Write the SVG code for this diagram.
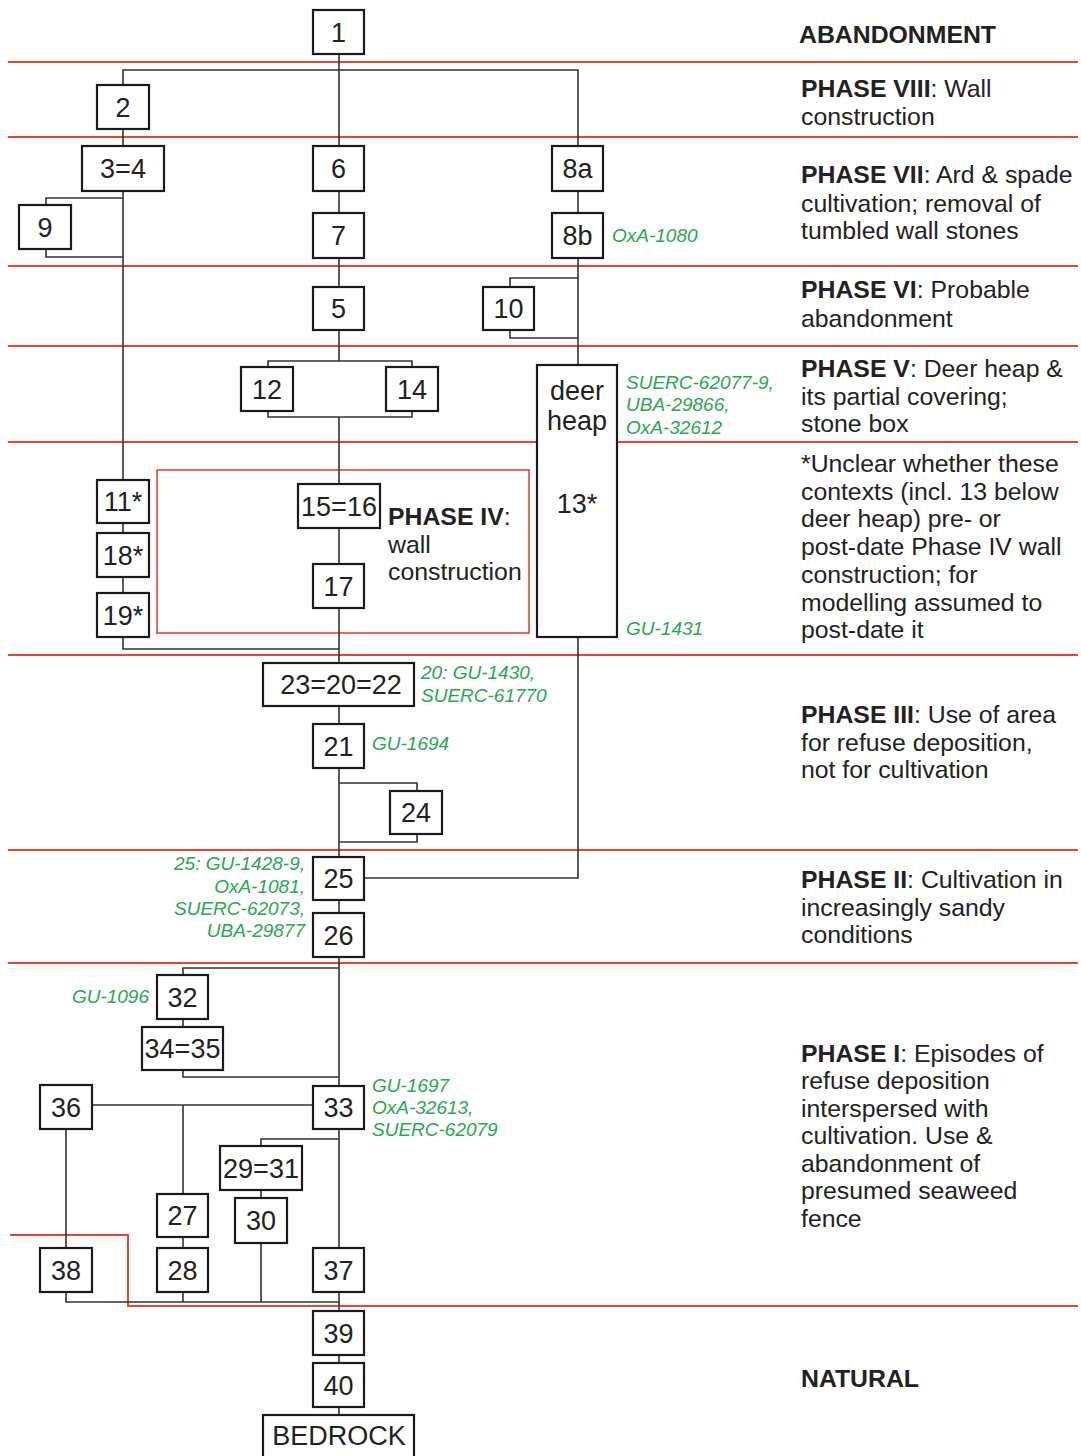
<svg xmlns="http://www.w3.org/2000/svg" width="1081" height="1456" viewBox="0 0 1081 1456">
<style>
.bg{fill:#ffffff}
.red{fill:none;stroke:#e8452f;stroke-width:2}
.redbox{fill:none;stroke:#e8452f;stroke-width:1.6}
.box{fill:#ffffff;stroke:#1a1a1a;stroke-width:2.2}
.con{fill:none;stroke:#333333;stroke-width:1.6}
.lbl{font-family:"Liberation Sans",Arial,sans-serif;font-size:27px;fill:#222222;text-anchor:middle}
.ph{font-family:"Liberation Sans",Arial,sans-serif;font-size:24.8px;fill:#222222}
.b{font-weight:bold}
.g{font-family:"Liberation Sans",Arial,sans-serif;font-size:19px;font-style:italic;fill:#28a850}
.gr{font-family:"Liberation Sans",Arial,sans-serif;font-size:19px;font-style:italic;fill:#28a850;text-anchor:end}
</style>
<rect class="bg" x="0" y="0" width="1081" height="1456"/>
<g id="phase-lines">
<path class="red" d="M8,62 H1078 M8,137 H1078 M8,266 H1078 M8,346 H1078 M8,442 H1078 M8,655 H1078 M8,850 H1078 M8,963 H1078"/>
<path class="red" d="M10,1235 H128 V1306 H1078"/>
<rect class="redbox" x="157" y="470" width="372" height="163"/>
</g>
<g id="connectors">
<path class="con" d="M339,54 V146 M123,85 V70 H578 V146 M123,129 V146 M123,191 V480 M123,198 H46 V205 M46,249 V257 H123"/>
<path class="con" d="M339,191 V213 M339,258 V287 M339,330 V361 M268,367 V361 H412 V367 M268,411 V417 H412 V411 M339,417 V484 M339,528 V564 M339,608 V663"/>
<path class="con" d="M123,523 V533 M123,577 V593 M123,637 V649 H339"/>
<path class="con" d="M578,191 V213 M578,258 V365 M578,278 H510 V287 M510,330 V338 H578 M578,637 V878 H364"/>
<path class="con" d="M339,706 V724 M339,768 V857 M339,783 H417 V791 M417,834 V842 H339 M339,900 V913 M339,957 V1086"/>
<path class="con" d="M339,968 H183 V975 M183,1019 V1027 M183,1070 V1077 H339 M92,1105 H313 M183,1105 V1194 M183,1237 V1248"/>
<path class="con" d="M339,1129 V1248 M339,1139 H261 V1146 M261,1190 V1198 M261,1243 V1302 M66,1129 V1248 M66,1292 V1302 H339 M183,1292 V1302 M339,1292 V1311 M339,1355 V1363 M339,1407 V1415"/>
</g>
<g id="n1"><rect class="box" x="313" y="10" width="51" height="44"/><text class="lbl" x="338.5" y="41.5">1</text></g>
<g id="n2"><rect class="box" x="97" y="85" width="52" height="44"/><text class="lbl" x="123" y="116.5">2</text></g>
<g id="n3-4"><rect class="box" x="82" y="146" width="82" height="45"/><text class="lbl" x="123" y="178">3=4</text></g>
<g id="n6"><rect class="box" x="313" y="146" width="51" height="45"/><text class="lbl" x="338.5" y="178">6</text></g>
<g id="n8a"><rect class="box" x="552" y="146" width="51" height="45"/><text class="lbl" x="577.5" y="178">8a</text></g>
<g id="n9"><rect class="box" x="19" y="205" width="52" height="44"/><text class="lbl" x="45" y="236.5">9</text></g>
<g id="n7"><rect class="box" x="313" y="213" width="51" height="45"/><text class="lbl" x="338.5" y="245">7</text></g>
<g id="n8b"><rect class="box" x="552" y="213" width="51" height="45"/><text class="lbl" x="577.5" y="245">8b</text></g>
<g id="n5"><rect class="box" x="313" y="287" width="51" height="43"/><text class="lbl" x="338.5" y="318">5</text></g>
<g id="n10"><rect class="box" x="483" y="287" width="51" height="43"/><text class="lbl" x="508.5" y="318">10</text></g>
<g id="n12"><rect class="box" x="241" y="367" width="52" height="44"/><text class="lbl" x="267" y="398.5">12</text></g>
<g id="n14"><rect class="box" x="386" y="367" width="52" height="44"/><text class="lbl" x="412" y="398.5">14</text></g>
<g id="deer-heap"><rect class="box" x="537" y="365" width="80" height="272"/><text class="lbl" x="577" y="400">deer</text><text class="lbl" x="577" y="430">heap</text><text class="lbl" x="577" y="513">13*</text></g>
<g id="n11"><rect class="box" x="97" y="480" width="52" height="43"/><text class="lbl" x="123" y="511">11*</text></g>
<g id="n18"><rect class="box" x="97" y="533" width="52" height="44"/><text class="lbl" x="123" y="564.5">18*</text></g>
<g id="n19"><rect class="box" x="97" y="593" width="52" height="44"/><text class="lbl" x="123" y="624.5">19*</text></g>
<g id="n15-16"><rect class="box" x="298" y="484" width="82" height="44"/><text class="lbl" x="339" y="515.5">15=16</text></g>
<g id="n17"><rect class="box" x="313" y="564" width="51" height="44"/><text class="lbl" x="338.5" y="595.5">17</text></g>
<g id="phase4-label"><text class="ph" x="388" y="525"><tspan class="b">PHASE IV</tspan>:</text><text class="ph" x="388" y="553">wall</text><text class="ph" x="388" y="580">construction</text></g>
<g id="n23-20-22"><rect class="box" x="263" y="663" width="151" height="43"/><text class="lbl" x="341" y="694">23=20=22</text></g>
<g id="n21"><rect class="box" x="313" y="724" width="51" height="44"/><text class="lbl" x="338.5" y="755.5">21</text></g>
<g id="n24"><rect class="box" x="390" y="791" width="52" height="43"/><text class="lbl" x="416" y="822">24</text></g>
<g id="n25"><rect class="box" x="313" y="857" width="51" height="43"/><text class="lbl" x="338.5" y="888">25</text></g>
<g id="n26"><rect class="box" x="313" y="913" width="51" height="44"/><text class="lbl" x="338.5" y="944.5">26</text></g>
<g id="n32"><rect class="box" x="157" y="975" width="51" height="44"/><text class="lbl" x="182.5" y="1006.5">32</text></g>
<g id="n34-35"><rect class="box" x="142" y="1027" width="81" height="43"/><text class="lbl" x="182.5" y="1058">34=35</text></g>
<g id="n36"><rect class="box" x="40" y="1085" width="52" height="44"/><text class="lbl" x="66" y="1116.5">36</text></g>
<g id="n33"><rect class="box" x="313" y="1086" width="51" height="43"/><text class="lbl" x="338.5" y="1117">33</text></g>
<g id="n29-31"><rect class="box" x="220" y="1146" width="82" height="44"/><text class="lbl" x="261" y="1177.5">29=31</text></g>
<g id="n27"><rect class="box" x="157" y="1194" width="51" height="43"/><text class="lbl" x="182.5" y="1225">27</text></g>
<g id="n30"><rect class="box" x="235" y="1198" width="52" height="45"/><text class="lbl" x="261" y="1230">30</text></g>
<g id="n38"><rect class="box" x="40" y="1248" width="52" height="44"/><text class="lbl" x="66" y="1279.5">38</text></g>
<g id="n28"><rect class="box" x="157" y="1248" width="51" height="44"/><text class="lbl" x="182.5" y="1279.5">28</text></g>
<g id="n37"><rect class="box" x="313" y="1248" width="51" height="44"/><text class="lbl" x="338.5" y="1279.5">37</text></g>
<g id="n39"><rect class="box" x="313" y="1311" width="51" height="44"/><text class="lbl" x="338.5" y="1342.5">39</text></g>
<g id="n40"><rect class="box" x="313" y="1363" width="51" height="44"/><text class="lbl" x="338.5" y="1394.5">40</text></g>
<g id="bedrock"><rect class="box" x="263" y="1415" width="151" height="50"/><text class="lbl" x="339" y="1445">BEDROCK</text></g>
<g id="dates">
<text class="g" x="612" y="242">OxA-1080</text>
<text class="g" x="626" y="389">SUERC-62077-9,</text>
<text class="g" x="626" y="411">UBA-29866,</text>
<text class="g" x="626" y="434">OxA-32612</text>
<text class="g" x="626" y="635">GU-1431</text>
<text class="g" x="421" y="679">20: GU-1430,</text>
<text class="g" x="421" y="702">SUERC-61770</text>
<text class="g" x="372" y="750">GU-1694</text>
<text class="gr" x="305" y="870">25: GU-1428-9,</text>
<text class="gr" x="305" y="893">OxA-1081,</text>
<text class="gr" x="305" y="915">SUERC-62073,</text>
<text class="gr" x="305" y="937">UBA-29877</text>
<text class="gr" x="149" y="1003">GU-1096</text>
<text class="g" x="372" y="1092">GU-1697</text>
<text class="g" x="372" y="1114">OxA-32613,</text>
<text class="g" x="372" y="1136">SUERC-62079</text>
</g>
<g id="phase-labels">
<text class="ph b" x="799" y="43">ABANDONMENT</text>
<text class="ph" x="801" y="97"><tspan class="b">PHASE VIII</tspan>: Wall</text>
<text class="ph" x="801" y="125">construction</text>
<text class="ph" x="801" y="183"><tspan class="b">PHASE VII</tspan>: Ard &amp; spade</text>
<text class="ph" x="801" y="212">cultivation; removal of</text>
<text class="ph" x="801" y="239">tumbled wall stones</text>
<text class="ph" x="801" y="298"><tspan class="b">PHASE VI</tspan>: Probable</text>
<text class="ph" x="801" y="327">abandonment</text>
<text class="ph" x="801" y="377"><tspan class="b">PHASE V</tspan>: Deer heap &amp;</text>
<text class="ph" x="801" y="405">its partial covering;</text>
<text class="ph" x="801" y="432">stone box</text>
<text class="ph" x="801" y="472">*Unclear whether these</text>
<text class="ph" x="801" y="500">contexts (incl. 13 below</text>
<text class="ph" x="801" y="527">deer heap) pre- or</text>
<text class="ph" x="801" y="555">post-date Phase IV wall</text>
<text class="ph" x="801" y="583">construction; for</text>
<text class="ph" x="801" y="611">modelling assumed to</text>
<text class="ph" x="801" y="638">post-date it</text>
<text class="ph" x="801" y="723"><tspan class="b">PHASE III</tspan>: Use of area</text>
<text class="ph" x="801" y="751">for refuse deposition,</text>
<text class="ph" x="801" y="778">not for cultivation</text>
<text class="ph" x="801" y="888"><tspan class="b">PHASE II</tspan>: Cultivation in</text>
<text class="ph" x="801" y="916">increasingly sandy</text>
<text class="ph" x="801" y="943">conditions</text>
<text class="ph" x="801" y="1062"><tspan class="b">PHASE I</tspan>: Episodes of</text>
<text class="ph" x="801" y="1089">refuse deposition</text>
<text class="ph" x="801" y="1117">interspersed with</text>
<text class="ph" x="801" y="1144">cultivation. Use &amp;</text>
<text class="ph" x="801" y="1172">abandonment of</text>
<text class="ph" x="801" y="1199">presumed seaweed</text>
<text class="ph" x="801" y="1227">fence</text>
<text class="ph b" x="801" y="1387">NATURAL</text>
</g>
</svg>
